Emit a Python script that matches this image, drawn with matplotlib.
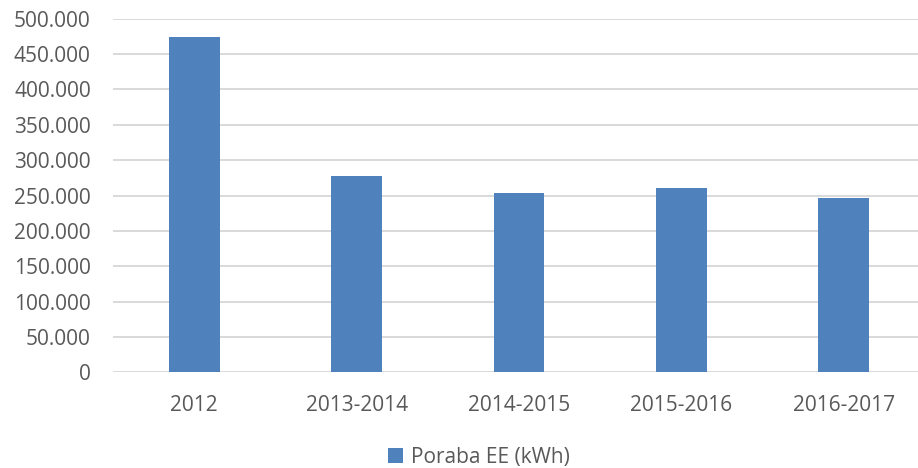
import matplotlib.pyplot as plt
from matplotlib.ticker import FuncFormatter

periods = ['2012', '2013-2014', '2014-2015', '2015-2016', '2016-2017']
poraba = [474000, 277500, 254000, 260600, 247000]

plt.rcParams['font.family'] = ['Open Sans', 'DejaVu Sans']

fig = plt.figure(figsize=(9.18, 4.68), dpi=100)
# plot area runs a bit past the right edge, like the cropped original
ax = fig.add_axes([113 / 918, 1 - 372.3 / 468, 812 / 918, 353.6 / 468])

ax.bar(periods, poraba, width=0.314, color='#4f81bd', label='Poraba EE (kWh)', zorder=3)

ax.set_ylim(0, 500000)
ax.set_xlim(-0.5, 4.5)
ax.set_yticks(range(0, 500001, 50000))
ax.yaxis.set_major_formatter(FuncFormatter(lambda v, p: f'{int(v):,}'.replace(',', '.')))

ax.grid(axis='y', color='#d9d9d9', linewidth=1.4, zorder=0)
for s in ax.spines.values():
    s.set_visible(False)
ax.tick_params(axis='both', length=0, labelsize=15, labelcolor='#595959')
ax.tick_params(axis='y', pad=16)
ax.tick_params(axis='x', pad=16)

fig.legend(loc='center', bbox_to_anchor=(479 / 918, 1 - 457 / 468), frameon=False,
           fontsize=15, labelcolor='#595959', handlelength=0.7, handleheight=0.7,
           handletextpad=0.4)

fig.savefig('out.png', dpi=100)
